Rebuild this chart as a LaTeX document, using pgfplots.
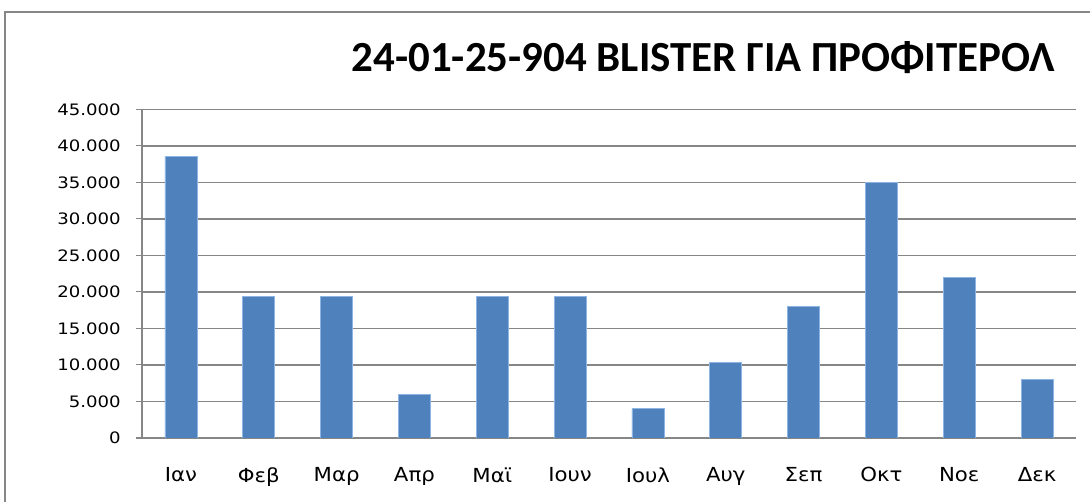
\documentclass[border=0pt]{standalone}
\usepackage{pgfplots}
\pgfplotsset{compat=1.18}
\usepackage{fontspec}
\setmainfont{Carlito}
\newfontfamily\ytickfont{DejaVu Sans}[FakeStretch=1.15]
\newfontfamily\xtickfont{DejaVu Sans}[FakeStretch=1.1]
\definecolor{barblue}{HTML}{4F81BD}
\definecolor{baredge}{HTML}{8EB4E3}
\definecolor{gridgray}{HTML}{868686}
\begin{document}
\begin{tikzpicture}
\useasboundingbox (0,0) rectangle (817.5pt,376.5pt);
\draw[gridgray, line width=1.2pt] (3.75pt,-5pt) -- (3.75pt,367.5pt) -- (830pt,367.5pt);
\node[font=\bfseries\fontsize{32.2}{36}\selectfont, anchor=base east, inner sep=0pt] at (791.25pt,322.5pt) {24-01-25-904 BLISTER ΓΙΑ ΠΡΟΦΙΤΕΡΟΛ};
\begin{axis}[
  at={(106.5pt,48pt)}, anchor=south west,
  scale only axis, width=700.5pt, height=246.5pt,
  xmin=-0.5, xmax=11.5, ymin=0, ymax=45000,
  ytick={0,5000,10000,15000,20000,25000,30000,35000,40000,45000},
  scaled y ticks=false,
  xtick={0,1,2,3,4,5,6,7,8,9,10,11},
  xticklabels={Ιαν,Φεβ,Μαρ,Απρ,Μαϊ,Ιουν,Ιουλ,Αυγ,Σεπ,Οκτ,Νοε,Δεκ},
  x tick style={draw=none},
  extra x ticks={-0.5,0.5,1.5,2.5,3.5,4.5,5.5,6.5,7.5,8.5,9.5,10.5,11.5},
  extra x tick labels={},
  extra x tick style={tick style={gridgray, line width=0.8pt}, major tick length=4.5pt},
  axis x line=bottom, axis y line=left,
  axis line style={gridgray, line width=1pt, -},
  ymajorgrids, grid style={gridgray, line width=1pt},
  y tick style={gridgray, line width=0.8pt},
  tick align=outside, major tick length=4.5pt,
  y tick label style={font=\ytickfont\fontsize{11.8}{14}\selectfont, xshift=-8pt},
  x tick label style={font=\xtickfont\fontsize{14.5}{17}\selectfont, yshift=-14pt},
  /pgf/number format/.cd, fixed, precision=0, 1000 sep={.}, assume math mode=true,
]
\addplot[ybar, bar width=24pt, fill=barblue, draw=baredge, line width=0.6pt] coordinates {
  (0,38500) (1,19400) (2,19400) (3,6000) (4,19400) (5,19400)
  (6,4000) (7,10300) (8,18000) (9,35000) (10,22000) (11,8000)
};
\end{axis}
\end{tikzpicture}
\end{document}
